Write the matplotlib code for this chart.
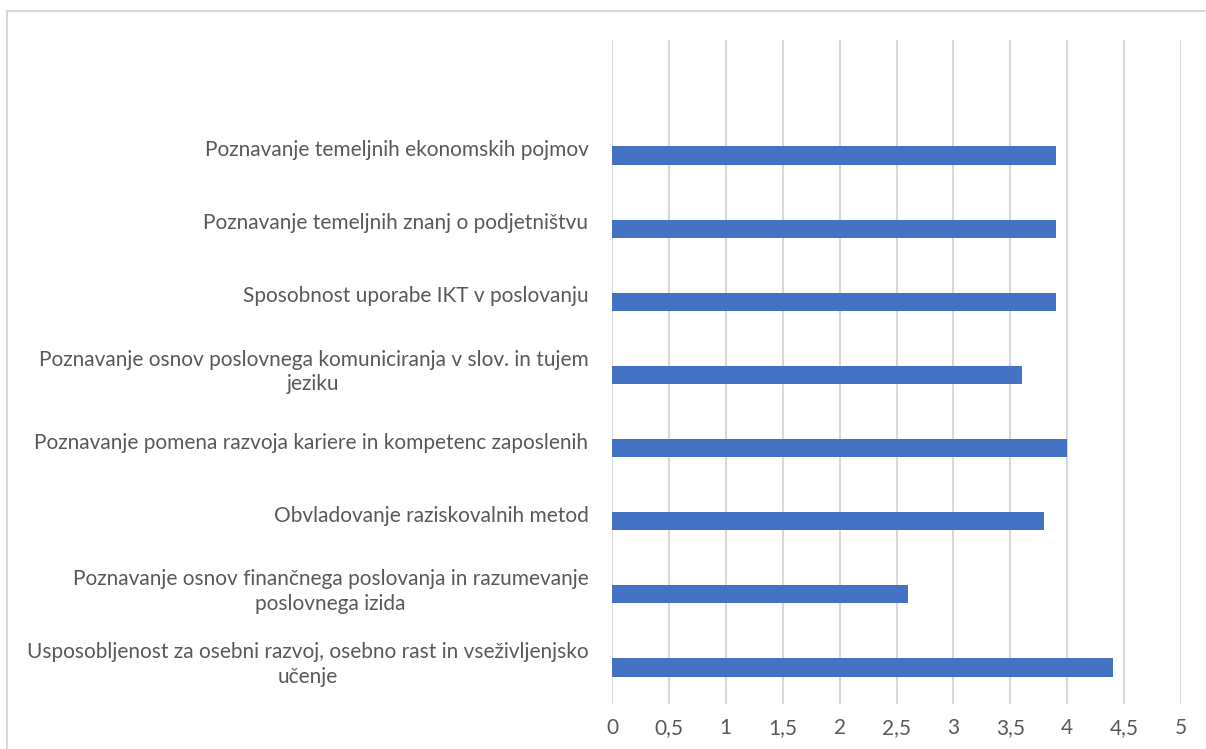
import matplotlib
matplotlib.use("Agg")
import matplotlib.pyplot as plt
from matplotlib.patches import Rectangle

categories = [
    "Usposobljenost za osebni razvoj, osebno rast in vseživljenjsko\nučenje",
    "Poznavanje osnov finančnega poslovanja in razumevanje\nposlovnega izida",
    "Obvladovanje raziskovalnih metod",
    "Poznavanje pomena razvoja kariere in kompetenc zaposlenih",
    "Poznavanje osnov poslovnega komuniciranja v slov. in tujem\njeziku",
    "Sposobnost uporabe IKT v poslovanju",
    "Poznavanje temeljnih znanj o podjetništvu",
    "Poznavanje temeljnih ekonomskih pojmov",
]
values = [4.4, 2.6, 3.8, 4.0, 3.6, 3.9, 3.9, 3.9]
x_ticks = [0, 0.5, 1, 1.5, 2, 2.5, 3, 3.5, 4, 4.5, 5]
x_tick_labels = ["0", "0,5", "1", "1,5", "2", "2,5", "3", "3,5", "4", "4,5", "5"]

plt.rcParams['font.family'] = ['Lato', 'DejaVu Sans']

W, H = 1206, 749
fig = plt.figure(figsize=(W / 100, H / 100), dpi=100)
ax = fig.add_axes([612 / W, 1 - 704 / H, (1181 - 612) / W, (704 - 40) / H])

pos = list(range(len(categories)))
ax.barh(pos, values, height=0.25, color="#4472C4", zorder=3)

ax.set_xlim(0, 5)
ax.set_ylim(-0.5, 8.58)
ax.set_xticks(x_ticks)
ax.set_xticklabels(x_tick_labels)
ax.set_yticks([p + 0.1 for p in pos])
ax.set_yticklabels(categories)
for lbl in ax.get_yticklabels():
    lbl.set_multialignment('center')
    lbl.set_linespacing(1.3)

ax.tick_params(axis='both', length=0, labelsize=15, colors="#595959")
ax.tick_params(axis='y', pad=17)
ax.tick_params(axis='x', pad=10)
ax.grid(axis='x', color="#D9D9D9", linewidth=1.5, zorder=0)
for s in ax.spines.values():
    s.set_visible(False)

fig.patches.append(Rectangle((7 / W, -0.01), 1.0, 1 - 11 / H + 0.01,
                             transform=fig.transFigure, fill=False,
                             edgecolor="#D9D9D9", linewidth=1.5))

fig.savefig("out.png", dpi=100)
